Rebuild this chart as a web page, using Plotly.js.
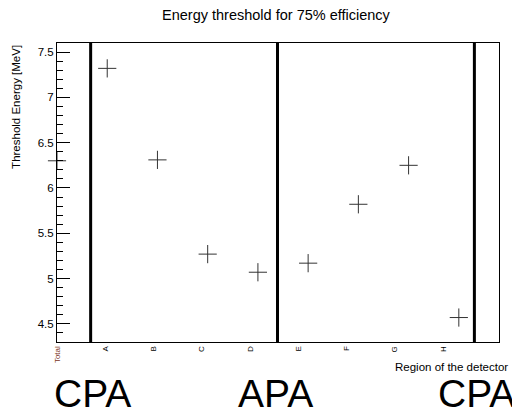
<!DOCTYPE html>
<html>
<head>
<meta charset="utf-8">
<script src="https://cdn.plot.ly/plotly-3.0.1.min.js"></script>
<style>html,body{margin:0;padding:0;background:#fff;}#chart{width:512px;height:412px;}</style>
</head>
<body>
<div id="chart"></div>
<script>
// Data
var regionIndex = [0, 1, 2, 3, 4, 5, 6, 7, 8];
var thresholdMeV = [6.30, 7.32, 6.31, 5.27, 5.07, 5.17, 5.82, 6.25, 4.57];
var tickLabels = ['Total', 'A', 'B', 'C', 'D', 'E', 'F', 'G', 'H'];
var boundaryX = [0.67, 4.39, 8.31];
var boundaryNames = ['CPA', 'APA', 'CPA'];

var labelStep = 0.961;
var tickvals = tickLabels.map(function (_, i) { return i * labelStep; });
var ticktext = tickLabels.map(function (t, i) {
  return i === 0 ? '<span style="color:#7a3322">' + t + '</span>' : t;
});

var trace = {
  x: regionIndex,
  y: thresholdMeV,
  type: 'scatter',
  mode: 'markers',
  cliponaxis: false,
  marker: {symbol: 'cross-thin-open', size: 13, color: '#333', line: {width: 1, color: '#333'}},
  hoverinfo: 'x+y'
};

var shapes = boundaryX.map(function (x) {
  return {type: 'line', xref: 'x', yref: 'paper', x0: x, x1: x, y0: 0, y1: 1,
          line: {color: '#000', width: 3}};
});

var annotations = [
  {text: 'Threshold Energy [MeV]', xref: 'paper', yref: 'paper', x: -0.093, y: 1.0,
   xanchor: 'center', yanchor: 'top', textangle: -90, showarrow: false,
   font: {family: 'Liberation Sans, Arial, sans-serif', size: 11.5, color: '#000'}},
  {text: 'Region of the detector', xref: 'paper', yref: 'paper', x: 1.025, y: -0.085,
   xanchor: 'right', yanchor: 'middle', showarrow: false,
   font: {family: 'Liberation Sans, Arial, sans-serif', size: 11.5, color: '#000'}}
];
var bigX = [-0.012, 0.405, 0.857];
boundaryNames.forEach(function (n, i) {
  annotations.push({text: n, xref: 'paper', yref: 'paper', x: bigX[i], y: -0.092,
    xanchor: 'left', yanchor: 'top', showarrow: false,
    font: {family: 'Liberation Sans, Arial, sans-serif', size: 39, color: '#000'}});
});

var layout = {
  width: 512, height: 412,
  margin: {l: 57, r: 13, t: 43, b: 70},
  paper_bgcolor: '#fff', plot_bgcolor: '#fff',
  showlegend: false,
  title: {text: 'Energy threshold for 75% efficiency', x: 0.539, xanchor: 'center', y: 0.963, yanchor: 'middle',
          font: {family: 'Liberation Sans, Arial, sans-serif', size: 14.5, color: '#000'}},
  xaxis: {
    range: [0, 8.8], showgrid: false, zeroline: false,
    showline: true, linecolor: '#000', linewidth: 1, mirror: true,
    tickmode: 'array', tickvals: tickvals, ticktext: ticktext,
    ticks: '', tickangle: -90,
    tickfont: {family: 'Liberation Sans, Arial, sans-serif', size: 8, color: '#000'}
  },
  yaxis: {
    range: [4.3, 7.6], showgrid: false, zeroline: false,
    showline: true, linecolor: '#000', linewidth: 1, mirror: true,
    dtick: 0.5, tick0: 0, ticks: 'inside', ticklen: 13, tickcolor: '#000', tickwidth: 1,
    minor: {dtick: 0.1, ticks: 'inside', ticklen: 6, tickcolor: '#000', tickwidth: 1, showgrid: false},
    tickfont: {family: 'Liberation Sans, Arial, sans-serif', size: 11.5, color: '#000'}
  },
  shapes: shapes,
  annotations: annotations
};

Plotly.newPlot('chart', [trace], layout, {displayModeBar: false, staticPlot: true});
</script>
</body>
</html>
